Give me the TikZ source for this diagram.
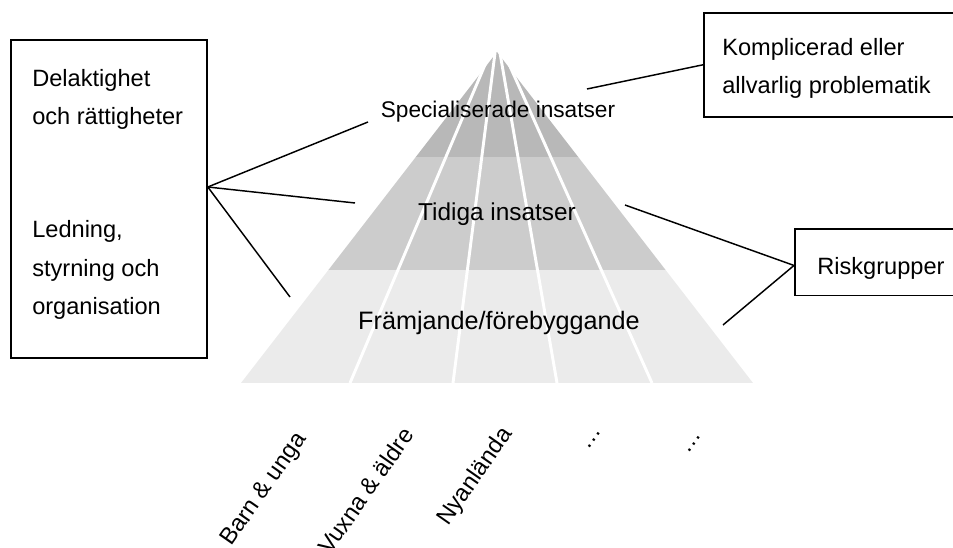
\documentclass[tikz,border=0pt]{standalone}
\usepackage{fontspec}
\setmainfont{Liberation Sans}
\usepackage{xcolor}
\usetikzlibrary{positioning}

\definecolor{topgrey}{gray}{0.72}
\definecolor{midgrey}{gray}{0.80}
\definecolor{lowgrey}{gray}{0.92}

\tikzset{
    lbl/.style={font=\fontsize{17.7}{29}\selectfont, inner sep=0pt},
    box/.style={draw, line width=1.2pt, inner sep=0pt},
    link/.style={line width=1.1pt},
    divider/.style={white, line width=2.2pt},
    group/.style={lbl, rotate=55, anchor=base east}
}

\begin{document}
\begin{tikzpicture}[x=0.75pt, y=-0.75pt]
        \useasboundingbox (0,0) rectangle (953,548);

        % pyramid
        \coordinate (apex) at (497,52);
        \fill[lowgrey] (328.4,270) -- (241,383) -- (753,383) -- (665.6,270) -- cycle;
        \fill[midgrey] (415.8,157) -- (328.4,270) -- (665.6,270) -- (578.2,157) -- cycle;
        \fill[topgrey] (apex) -- (415.8,157) -- (578.2,157) -- cycle;

        % dividers
        \draw[divider] (490,53) -- (350,383);
        \draw[divider] (495,53) -- (453,383);
        \draw[divider] (500,53) -- (557,383);
        \draw[divider] (504,53) -- (652,383);

        % levels
        \node[lbl, anchor=base, font=\fontsize{17}{20}\selectfont] (spec) at (498,118) {Specialiserade insatser};
        \node[lbl, anchor=base, font=\fontsize{18.3}{20}\selectfont] (early) at (497,221) {Tidiga insatser};
        \node[lbl, anchor=base, font=\fontsize{18.9}{20}\selectfont] (promo) at (499,330) {Främjande/förebyggande};

        % target groups
        \node[group] (kids) at (307,439) {Barn \& unga};
        \node[group] (adults) at (415,435) {Vuxna \& äldre};
        \node[group] (newcomers) at (513,434) {Nyanlända};
        \node[group] (more) at (602,431) {…};
        \node[group] (rest) at (702,435) {…};

        % boxes
        \node[box, minimum width=147pt, minimum height=238.5pt] (aspects) at (109,199) {};
        \node[lbl, anchor=base west, align=left] (rights) at (32,125) {Delaktighet\\och rättigheter};
        \node[lbl, anchor=base west, align=left] (lead) at (32,315) {Ledning,\\styrning och\\organisation};
        \node[box, anchor=north west, minimum width=200pt, minimum height=78pt] (complex) at (703,12) {};
        \node[lbl, anchor=base west, align=left] (complextext) at (722,94) {Komplicerad eller\\allvarlig problematik};
        \node[box, anchor=north west, minimum width=132pt, minimum height=50pt] (risk) at (794,228) {};
        \node[lbl, anchor=base west] (risktext) at (817,275) {Riskgrupper};

        % connectors
        \coordinate (hub) at ([yshift=9pt]aspects.east);
        \coordinate (specL) at (368,122);
        \coordinate (earlyL) at (355,203);
        \coordinate (promoL) at (290,297);
        \coordinate (specR) at (587,89);
        \coordinate (earlyR) at (625,205);
        \coordinate (promoR) at (723,325);
        \draw[link] (hub) -- (specL);
        \draw[link] (hub) -- (earlyL);
        \draw[link] (hub) -- (promoL);
        \draw[link] (specR) -- (complex.west);
        \draw[link] (earlyR) -- ([yshift=-2.5pt]risk.west);
        \draw[link] (promoR) -- ([yshift=-2.5pt]risk.west);
    \end{tikzpicture}
\end{document}
